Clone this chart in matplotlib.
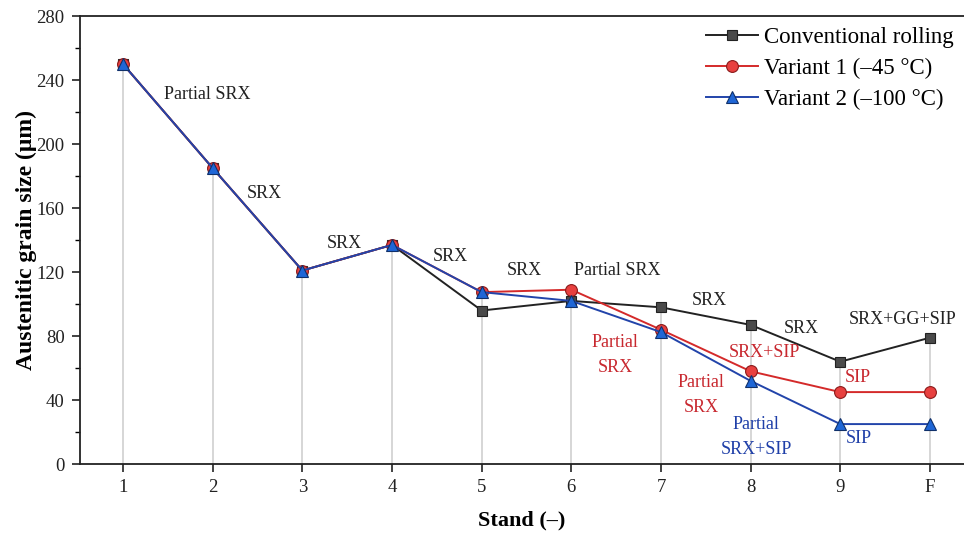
import matplotlib
matplotlib.use("Agg")
import matplotlib.pyplot as plt
from matplotlib.ticker import MultipleLocator

plt.rcParams['font.family'] = ['Liberation Serif', 'DejaVu Serif']
plt.rcParams['mathtext.fontset'] = 'stix'

stands = ['1', '2', '3', '4', '5', '6', '7', '8', '9', 'F']
conventional = [250, 185, 121, 137, 96, 102, 98, 87, 64, 79]
variant1 = [250, 185, 121, 137, 107.5, 109, 84, 58, 45, 45]
variant2 = [250, 185, 121, 137, 107.5, 102, 82.5, 52, 25, 25]

labels_black = [("Partial SRX", 1.94, 231), ("SRX", 2.58, 169), ("SRX", 3.47, 138),
                ("SRX", 4.65, 130), ("SRX", 5.48, 121), ("Partial SRX", 6.51, 121),
                ("SRX", 7.54, 102.5), ("SRX", 8.56, 85), ("SRX+GG+SIP", 9.69, 90.5)]
labels_red = [("Partial\nSRX", 6.49, 68), ("SRX+SIP", 8.15, 70), ("Partial\nSRX", 7.45, 43),
              ("SIP", 9.2, 54)]
labels_blue = [("Partial\nSRX+SIP", 8.06, 17), ("SIP", 9.21, 16)]

x = list(range(1, len(stands) + 1))

fig = plt.figure(figsize=(9.64, 5.39), dpi=100)
ax = fig.add_axes([0.083, 0.139, 0.917, 0.831])

for xi, a, b, c in zip(x, conventional, variant1, variant2):
    ax.plot([xi, xi], [0, max(a, b, c)], color='#d0d0d0', lw=1.2, zorder=1)

ax.plot(x, conventional, '-s', color='#222222', mfc='#4a4a4a', mec='#222222', ms=7, lw=1.4,
        mew=0.8, label='Conventional rolling', zorder=3)
ax.plot(x, variant1, '-o', color='#d42a2a', mfc='#e8403f', mec='#8a1a1a', ms=8.5, lw=1.4,
        mew=0.8, label='Variant 1 (\u201345 \u00b0C)', zorder=4)
ax.plot(x, variant2, '-^', color='#2244aa', mfc='#1f66d6', mec='#10306a', ms=9, lw=1.4,
        mew=0.8, label='Variant 2 (\u2013100 \u00b0C)', zorder=5)

fs = 13
for t, xx, yy in labels_black:
    ax.text(xx, yy, t, color='#222222', fontsize=fs, ha='center', va='center', zorder=6)
for t, xx, yy in labels_red:
    ax.text(xx, yy, t, color='#c8282f', fontsize=fs, ha='center', va='center',
            linespacing=1.6, zorder=6)
for t, xx, yy in labels_blue:
    ax.text(xx, yy, t, color='#1f3fa8', fontsize=fs, ha='center', va='center',
            linespacing=1.6, zorder=6)

ax.set_xlim(0.52, 10.38)
ax.set_ylim(0, 280)
ax.set_xticks(x)
ax.set_xticklabels(stands)
ax.yaxis.set_major_locator(MultipleLocator(40))
ax.yaxis.set_minor_locator(MultipleLocator(20))
ax.tick_params(axis='both', which='major', direction='out', length=6, width=1.2,
               labelsize=13.5, colors='#222222', pad=5)
ax.tick_params(axis='y', which='minor', direction='out', length=3.5, width=1.0)
ax.spines['right'].set_visible(False)
for s in ['left', 'bottom', 'top']:
    ax.spines[s].set_linewidth(1.3)
    ax.spines[s].set_color('#222222')

ax.set_xlabel('Stand (\u2013)', fontsize=16, fontweight='bold', labelpad=10)
ax.set_ylabel('Austenitic grain size (\u03bcm)', fontsize=17, fontweight='bold', labelpad=0)

ax.legend(loc='upper right', frameon=False, fontsize=16.5, handlelength=2.3,
          borderaxespad=0.05, labelspacing=0.45, handletextpad=0.25,
          bbox_to_anchor=(1.0, 1.0))

fig.savefig('out.png', dpi=100)
